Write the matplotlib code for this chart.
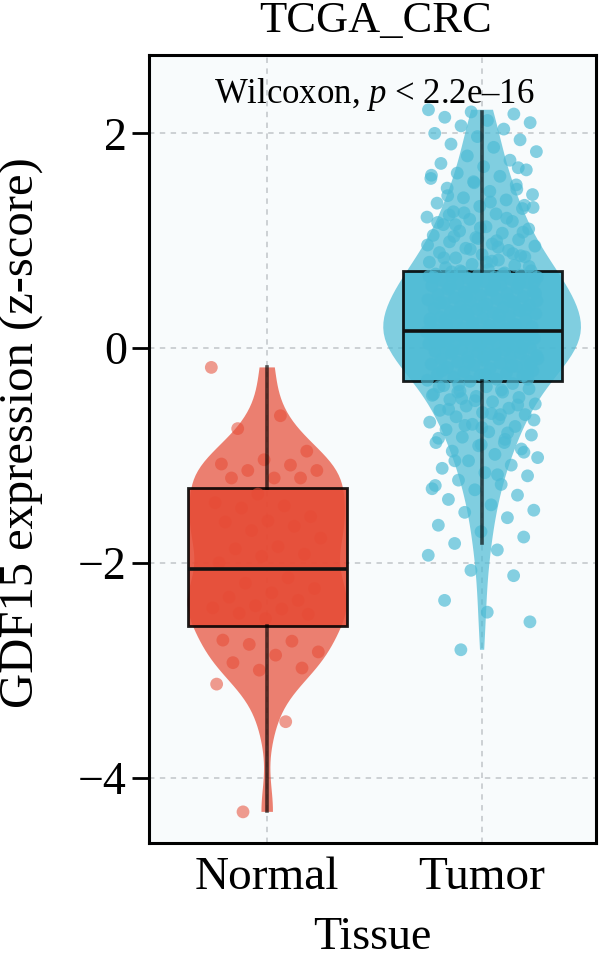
import numpy as np
import matplotlib
matplotlib.use("Agg")
import matplotlib.pyplot as plt

plt.rcParams['font.family'] = ['Liberation Serif', 'DejaVu Serif']
plt.rcParams['mathtext.fontset'] = 'custom'
plt.rcParams['mathtext.it'] = 'Liberation Serif:italic'

# categories and colours
groups = ["Normal", "Tumor"]
colors = ["#E64B35", "#4DBBD5"]

# box statistics (q1, median, q3, whisker low, whisker high)
box_q1 = [-2.59, -0.31]
box_med = [-2.06, 0.16]
box_q3 = [-1.30, 0.72]
box_low = [-4.31, -1.82]
box_high = [-0.18, 2.20]

# individual samples (estimated from the jittered points / violin shape)
normal_vals = [
    -0.18, -0.63, -0.75, -0.96, -1.04, -1.08, -1.09, -1.14, -1.14, -1.21,
    -1.21, -1.21, -1.36, -1.44, -1.47, -1.49, -1.57, -1.61, -1.62, -1.66,
    -1.70, -1.77, -1.85, -1.87, -1.92, -1.94, -2.00, -2.14, -2.19, -2.24,
    -2.28, -2.32, -2.35, -2.40, -2.42, -2.43, -2.47, -2.48, -2.52, -2.72,
    -2.73, -2.76, -2.83, -2.86, -2.93, -2.98, -3.00, -3.13, -3.48, -4.32,
]
tumor_vals = [
    -2.81, -2.55, -2.46, -2.35, -2.12, -2.07, -1.93, -1.88,
    -1.82, -1.76, -1.71, -1.65, -1.58, -1.53, -1.51, -1.46, -1.41, -1.37,
    -1.32, -1.31, -1.27, -1.23, -1.19, -1.16, -1.12, -1.09, -1.05, -1.02,
    -0.99, -0.96, -0.94, -0.91, -0.88, -0.85, -0.83, -0.81, -0.78, -0.76,
    -0.73, -0.71, -0.69, -0.66, -0.64, -0.62, -0.60, -0.58, -0.56, -0.54,
    -0.52, -0.50, -0.48, -0.46, -0.45, -0.43, -0.41, -0.40, -0.38, -0.36,
    -0.35, -0.33,
    -0.31, -0.30, -0.29, -0.27, -0.26, -0.25, -0.24, -0.23, -0.22, -0.21,
    -0.19, -0.18, -0.17, -0.16, -0.15, -0.14, -0.13, -0.12, -0.11, -0.10,
    -0.09, -0.08, -0.07, -0.06, -0.05, -0.05, -0.04, -0.03, -0.02, -0.01,
    0.00, 0.01, 0.01, 0.02, 0.03, 0.04, 0.04, 0.05, 0.06, 0.06,
    0.07, 0.08, 0.08, 0.09, 0.10, 0.10, 0.11, 0.11, 0.12, 0.12,
    0.13, 0.13, 0.13, 0.14, 0.14, 0.14, 0.15, 0.15, 0.15, 0.16,
    0.16, 0.17, 0.18, 0.19, 0.20, 0.21, 0.22, 0.22, 0.23, 0.24,
    0.25, 0.26, 0.27, 0.28, 0.29, 0.30, 0.31, 0.32, 0.33, 0.34,
    0.35, 0.36, 0.37, 0.38, 0.39, 0.40, 0.41, 0.42, 0.43, 0.44,
    0.45, 0.46, 0.47, 0.48, 0.49, 0.50, 0.51, 0.52, 0.53, 0.54,
    0.55, 0.56, 0.57, 0.58, 0.59, 0.60, 0.61, 0.62, 0.63, 0.64,
    0.65, 0.66, 0.66, 0.67, 0.68, 0.68, 0.69, 0.70, 0.71, 0.72,
    0.73, 0.75, 0.77, 0.78, 0.80, 0.82, 0.84, 0.85, 0.87, 0.89,
    0.91, 0.93, 0.95, 0.97, 0.99, 1.01, 1.03, 1.05, 1.07, 1.09,
    1.11, 1.13, 1.15, 1.18, 1.20, 1.22, 1.25, 1.27, 1.30, 1.32,
    1.35, 1.38, 1.40, 1.43, 1.46, 1.49, 1.52, 1.55, 1.58, 1.60,
    1.63, 1.66, 1.69, 1.72, 1.75, 1.79, 1.83, 1.87, 1.90, 1.94,
    1.97, 2.00, 2.04, 2.07, 2.10, 2.12, 2.15, 2.18, 2.20, 2.22,
    -1.18, -1.05, -0.97, -0.90, -0.84, -0.79, -0.72, -0.67, -0.61, -0.57,
    -0.53, -0.49, -0.44, -0.39, -0.34, -0.29, -0.25, -0.21, -0.17, -0.13,
    -0.10, -0.06, -0.03, 0.00, 0.03, 0.05, 0.08, 0.11, 0.13, 0.16,
    0.18, 0.21, 0.24, 0.27, 0.30, 0.33, 0.36, 0.39, 0.42, 0.45,
    0.48, 0.51, 0.54, 0.57, 0.60, 0.63, 0.66, 0.69, 0.72, 0.76,
    0.80, 0.84, 0.88, 0.92, 0.96, 1.00, 1.04, 1.08, 1.12, 1.17,
    1.21, 1.26, 1.31, 1.36, 1.42, 1.48, 1.54, 1.61, -0.62, -0.41,
    -0.22, -0.08, 0.06, 0.19, 0.31, 0.44, 0.58, 0.71, 0.86, 1.02,
    -1.28, -0.88, -0.47, -0.15, 0.09, 0.26, 0.41, 0.55, 0.67, 0.94,
    1.15, 1.33, -0.74, -0.36, 0.02, 0.35, 0.62, 0.81, 1.24, 1.68,
]
samples = [normal_vals, tumor_vals]

fig = plt.figure(figsize=(6, 9.59), dpi=100)
ax = fig.add_axes([149 / 600, 1 - 843 / 959, 447 / 600, 788 / 959])
ax.set_facecolor("#F8FBFC")

pos = [1, 2]

# violins
vp = ax.violinplot(samples, positions=pos, widths=[0.74, 0.92],
                   showextrema=False, bw_method=0.32)
for body, c in zip(vp["bodies"], colors):
    body.set_facecolor(c)
    body.set_edgecolor("none")
    body.set_alpha(0.7)
    body.set_zorder(2)

# boxes
stats = []
for i in range(2):
    stats.append(dict(med=box_med[i], q1=box_q1[i], q3=box_q3[i],
                      whislo=box_low[i], whishi=box_high[i], fliers=[]))
bp = ax.bxp(stats, positions=pos, widths=0.74, patch_artist=True,
            showcaps=False, zorder=3)
for patch, c in zip(bp["boxes"], colors):
    patch.set_facecolor(c)
    patch.set_alpha(0.88)
    patch.set_edgecolor("black")
    patch.set_linewidth(2.0)
for med in bp["medians"]:
    med.set_color("#111111")
    med.set_linewidth(2.6)
    med.set_zorder(5)
for w in bp["whiskers"]:
    w.set_color("black")
    w.set_alpha(0.65)
    w.set_linewidth(2.6)
    w.set_zorder(5)

# jittered points (deterministic jitter from index)
alphas = [0.55, 0.68]
for i, (vals, c) in enumerate(zip(samples, colors)):
    vals = np.asarray(vals)
    k = np.arange(len(vals))
    jit = ((k * 0.6180339887 + 0.31 * i) % 1.0 - 0.5) * 0.52
    ax.scatter(pos[i] + jit, vals, s=85, color=c, alpha=alphas[i],
               edgecolors="none", zorder=4)

# grid
ax.set_axisbelow(True)
ax.grid(True, color="#C9CDD0", linestyle=(0, (3, 3)), linewidth=1.3)

ax.set_xlim(0.45, 2.53)
ax.set_ylim(-4.61, 2.73)
ax.set_xticks(pos)
ax.set_xticklabels(groups, fontsize=34)
ax.set_yticks([-4, -2, 0, 2])
ax.set_yticklabels(["\u22124", "\u22122", "0", "2"], fontsize=33)
ax.tick_params(axis="y", length=12, width=2, pad=4)
ax.tick_params(axis="x", length=0, pad=10)
for sp in ax.spines.values():
    sp.set_linewidth(2.2)

ax.text(1.5, 2.36, "Wilcoxon, $p$ < 2.2e\u201316",
        ha="center", va="center", fontsize=25, zorder=6)

fig.text(376 / 600, 1 - 21 / 959, "TCGA_CRC", ha="center", va="center", fontsize=32)
fig.text(372 / 600, 1 - 949 / 959, "Tissue", ha="center", va="baseline", fontsize=33)
fig.text(22 / 600, 1 - 433 / 959, "GDF15 expression (z-score)", ha="center",
         va="center", rotation=90, fontsize=35)

fig.savefig("out.png", dpi=100)
